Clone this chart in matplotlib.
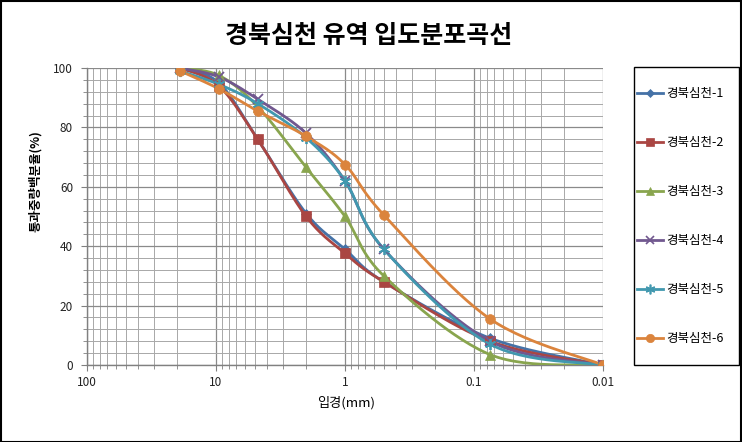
import numpy as np
import matplotlib
matplotlib.use("Agg")
import matplotlib.pyplot as plt
from matplotlib.patches import Rectangle
from matplotlib.ticker import LogLocator, NullFormatter, FixedLocator, FixedFormatter, MultipleLocator

plt.rcParams['font.family'] = ['Noto Sans CJK KR', 'DejaVu Sans']

# ---- data ----
sizes = [19, 9.5, 4.75, 2, 1, 0.5, 0.075, 0.01]
labels = ['경북심천-1', '경북심천-2', '경북심천-3', '경북심천-4', '경북심천-5', '경북심천-6']
s1 = [100, 95, 76, 51, 39, 28, 9, 0]
s2 = [100, 94, 76, 50, 37.6, 28, 8, 0]
s3 = [100, 97.5, 87, 66.5, 50, 30, 3.5, 0]
s4 = [100, 97, 89.5, 78, 62, 39, 8, 0]
s5 = [99, 94.5, 88, 76.5, 62, 39, 7, 0]
s6 = [99, 93, 85.5, 77, 67.5, 50.5, 15.5, 0]
series = [s1, s2, s3, s4, s5, s6]
xticks = [100, 10, 1, 0.1, 0.01]
xtick_labels = ['100', '10', '1', '0.1', '0.01']
yticks = [0, 20, 40, 60, 80, 100]

colors = ['#4572A7', '#AA4643', '#89A54E', '#71588F', '#4198AF', '#DB843D']
markers = ['D', 's', '^', 'x', (6, 2, 0), 'o']
msizes = [5.5, 7, 7, 7, 8, 7]


def smooth(xs, ys, n=30):
    # Excel-like smoothing (Catmull-Rom bezier) in approximate pixel space
    u = -np.log10(np.asarray(xs, float)) * 129.0
    v = np.asarray(ys, float) * 2.97
    P = np.column_stack([u, v])
    m = len(P)
    out = []
    for i in range(m - 1):
        p0 = P[i - 1] if i > 0 else P[i]
        p1 = P[i]
        p2 = P[i + 1]
        p3 = P[i + 2] if i + 2 < m else P[i + 1]
        c1 = p1 + (p2 - p0) / 6.0
        c2 = p2 - (p3 - p1) / 6.0
        t = np.linspace(0, 1, n)[:, None]
        seg = ((1 - t) ** 3) * p1 + 3 * ((1 - t) ** 2) * t * c1 + 3 * (1 - t) * t ** 2 * c2 + t ** 3 * p2
        if i > 0:
            seg = seg[1:]
        out.append(seg)
    out = np.vstack(out)
    return 10 ** (-out[:, 0] / 129.0), out[:, 1] / 2.97


W, H = 742, 442
fig = plt.figure(figsize=(W / 100, H / 100), dpi=100)
ax = fig.add_axes([87 / W, 1 - 365 / H, (603 - 87) / W, (365 - 68) / H])

ax.set_xscale('log')
ax.set_xlim(100, 0.01)
ax.set_ylim(0, 100)

ax.xaxis.set_major_locator(FixedLocator(xticks))
ax.xaxis.set_major_formatter(FixedFormatter(xtick_labels))
ax.xaxis.set_minor_locator(LogLocator(base=10, subs=np.arange(2, 10)))
ax.xaxis.set_minor_formatter(NullFormatter())
ax.yaxis.set_major_locator(FixedLocator(yticks))
ax.yaxis.set_minor_locator(MultipleLocator(4))

ax.grid(which='major', color='#8a8a8a', linewidth=0.9)
ax.grid(which='minor', color='#a8a8a8', linewidth=0.7)
ax.set_axisbelow(True)

for sp in ['top', 'right']:
    ax.spines[sp].set_visible(False)
for sp in ['left', 'bottom']:
    ax.spines[sp].set_color('#808080')
    ax.spines[sp].set_linewidth(1.0)

ax.tick_params(which='major', direction='out', length=4, color='#808080', labelsize=8.5, labelcolor='#222222')
ax.tick_params(which='minor', direction='out', length=3, color='#808080')
ax.tick_params(axis='x', pad=4)
ax.tick_params(axis='y', pad=6)

for ys, lab, c, mk, ms in zip(series, labels, colors, markers, msizes):
    sx, sy = smooth(sizes, ys)
    ax.plot(sx, sy, color=c, linewidth=2.0, zorder=3)
    ax.plot(sizes, ys, linestyle='none', marker=mk, markersize=ms, color=c,
            markeredgecolor=c, markeredgewidth=1.3 if mk in ('x', (6, 2, 0)) else 0.5, zorder=4)
    ax.plot([], [], color=c, linewidth=2.0, marker=mk, markersize=ms - 1, markeredgecolor=c,
            markeredgewidth=1.2 if mk in ('x', (6, 2, 0)) else 0.5, label=lab)

fig.text(369 / W, 1 - 36 / H, '경북심천 유역 입도분포곡선', ha='center', va='center',
         fontsize=18, fontweight='bold')
fig.text(346 / W, 1 - 403 / H, '입경(mm)', ha='center', va='center', fontsize=9.5)
fig.text(35 / W, 1 - 181 / H, '통과중량백분율(%)', ha='center', va='center', rotation=90,
         fontsize=9, fontweight='bold')

# legend box drawn separately, entries placed inside
fig.patches.append(Rectangle((634 / W, 1 - 365 / H), (739 - 634) / W, (365 - 67) / H,
                             transform=fig.transFigure, fill=False, edgecolor='black',
                             linewidth=1.0, zorder=5))
handles, labs = ax.get_legend_handles_labels()
leg = fig.legend(handles, labs, loc='upper left', bbox_to_anchor=(637 / W, 1 - 87 / H),
                 frameon=False, fontsize=9, labelspacing=2.88, borderpad=0,
                 handlelength=2.1, handletextpad=0.25, borderaxespad=0)

fig.patches.append(Rectangle((0.001, 0.001), 0.997, 0.997, transform=fig.transFigure,
                             fill=False, edgecolor='black', linewidth=1.5))

fig.savefig('out.png', dpi=100)
